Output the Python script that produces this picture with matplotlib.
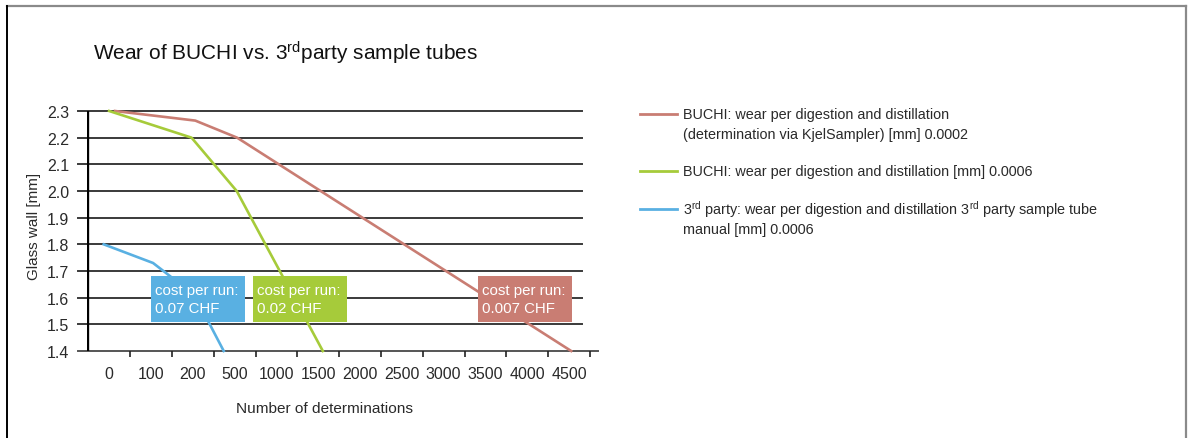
import matplotlib.pyplot as plt
import matplotlib.transforms as mtransforms
from matplotlib.lines import Line2D
from matplotlib.patches import Rectangle

plt.rcParams['font.family'] = ['Liberation Sans', 'DejaVu Sans']
plt.rcParams['mathtext.fontset'] = 'custom'
plt.rcParams['mathtext.rm'] = 'Liberation Sans'
plt.rcParams['mathtext.it'] = 'Liberation Sans:italic'

# category axis
categories = ["0", "100", "200", "500", "1000", "1500", "2000",
              "2500", "3000", "3500", "4000", "4500"]

# series, x given as position on the category axis
buchi_ks_x = [0.14, 2.06, 3.06, 11.05]
buchi_ks_y = [2.30, 2.264, 2.20, 1.40]
buchi_x = [0.0, 1.97, 3.05, 5.11]
buchi_y = [2.30, 2.20, 2.00, 1.40]
third_x = [-0.13, 1.05, 2.04, 2.74]
third_y = [1.80, 1.73, 1.61, 1.40]

yticks = [1.4, 1.5, 1.6, 1.7, 1.8, 1.9, 2.0, 2.1, 2.2, 2.3]

labels = [
    "BUCHI: wear per digestion and distillation\n(determination via KjelSampler) [mm] 0.0002",
    "BUCHI: wear per digestion and distillation [mm] 0.0006",
    "3$^{\\mathrm{rd}}$ party: wear per digestion and distillation 3$^{\\mathrm{rd}}$ party sample tube\nmanual [mm] 0.0006",
]
colors = ["#C97D73", "#A6CB3A", "#59B0E2"]

# cost annotations: text and box left edge on the category axis
cost_texts = ["cost per run:\n0.07 CHF", "cost per run:\n0.02 CHF", "cost per run:\n0.007 CHF"]
cost_x = [1.0, 3.44, 8.82]
cost_colors = [colors[2], colors[1], colors[0]]

W, H = 1190, 439
fig = plt.figure(figsize=(W / 100, H / 100), dpi=100)
ax = fig.add_axes([87 / W, 1 - 352 / H, 503 / W, 240 / H])

ax.set_xlim(-0.53, 11.5)
ax.set_ylim(1.4, 2.3)

# horizontal grid lines, sticking out a bit on the left
tr = mtransforms.blended_transform_factory(ax.transAxes, ax.transData)
for yv in yticks[1:]:
    ax.plot([-0.018, 0.984], [yv, yv], color="#3a3a3a", lw=1.4,
            transform=tr, clip_on=False, zorder=1)
ax.plot([-0.018, 1.016], [1.4, 1.4], color="#555555", lw=1.4,
        transform=tr, clip_on=False, zorder=1)

for sp in ax.spines.values():
    sp.set_visible(False)
ax.axvline(-0.53, color="black", lw=2.4, zorder=3)

ax.plot(buchi_ks_x, buchi_ks_y, color=colors[0], lw=1.9, zorder=2, clip_on=False)
ax.plot(buchi_x, buchi_y, color=colors[1], lw=1.9, zorder=2, clip_on=False)
ax.plot(third_x, third_y, color=colors[2], lw=1.9, zorder=2, clip_on=False)

# ticks
ax.set_yticks(yticks)
ax.set_yticklabels([f"{v:.1f}" for v in yticks])
ax.tick_params(axis="y", length=0, pad=13, labelsize=11.5, labelcolor="#2a2a2a")
ax.set_xticks(range(len(categories)))
ax.set_xticklabels(categories)
ax.set_xticks([i + 0.5 for i in range(len(categories))], minor=True)
ax.tick_params(axis="x", which="major", length=0, pad=11, labelsize=11.5,
               labelcolor="#2a2a2a")
ax.tick_params(axis="x", which="minor", length=4, width=1.2, color="#222222",
               direction="out")

# cost per run boxes
box_w, box_top, box_h = 2.25, 1.681, 0.1725
for txt, bx, c in zip(cost_texts, cost_x, cost_colors):
    ax.add_patch(Rectangle((bx, box_top - box_h), box_w, box_h, fc=c, ec="none",
                           zorder=5))
    l1, l2 = txt.split("\n")
    ax.text(bx + 0.09, 1.628, l1, color="white", fontsize=10.8, va="center",
            ha="left", zorder=6)
    ax.text(bx + 0.09, 1.561, l2, color="white", fontsize=10.8, va="center",
            ha="left", zorder=6)

# titles and axis labels
fig.text(93 / W, 1 - 53 / H, "Wear of BUCHI vs. 3$^{\\mathrm{rd}}$party sample tubes",
         fontsize=15, va="center", ha="left", color="#111111")
fig.text(34 / W, 1 - 226 / H, "Glass wall [mm]", rotation=90, fontsize=11,
         va="center", ha="center", color="#2a2a2a")
fig.text(324 / W, 1 - 409 / H, "Number of determinations", fontsize=11.1,
         va="center", ha="center", color="#2a2a2a")

# legend drawn by hand
leg_y = [115, 172, 210]
for lab, c, ly in zip(labels, colors, leg_y):
    fig.add_artist(Line2D([640 / W, 677 / W], [1 - ly / H, 1 - ly / H],
                          color=c, lw=2, transform=fig.transFigure))
    for k, line in enumerate(lab.split("\n")):
        fig.text(683 / W, 1 - (ly + 20 * k) / H, line, fontsize=10.4,
                 va="center", ha="left", color="#2a2a2a")

# frame around figure
fig.add_artist(Line2D([7 / W, 1186 / W], [1 - 7 / H, 1 - 7 / H], color="#8a8a8a",
                      lw=1.6, transform=fig.transFigure))
fig.add_artist(Line2D([1186 / W, 1186 / W], [1 - 7 / H, 0], color="#8a8a8a",
                      lw=1.6, transform=fig.transFigure))
fig.add_artist(Line2D([7 / W, 7 / W], [1 - 7 / H, 0], color="black",
                      lw=1.4, transform=fig.transFigure))

fig.savefig("out.png", dpi=100)
